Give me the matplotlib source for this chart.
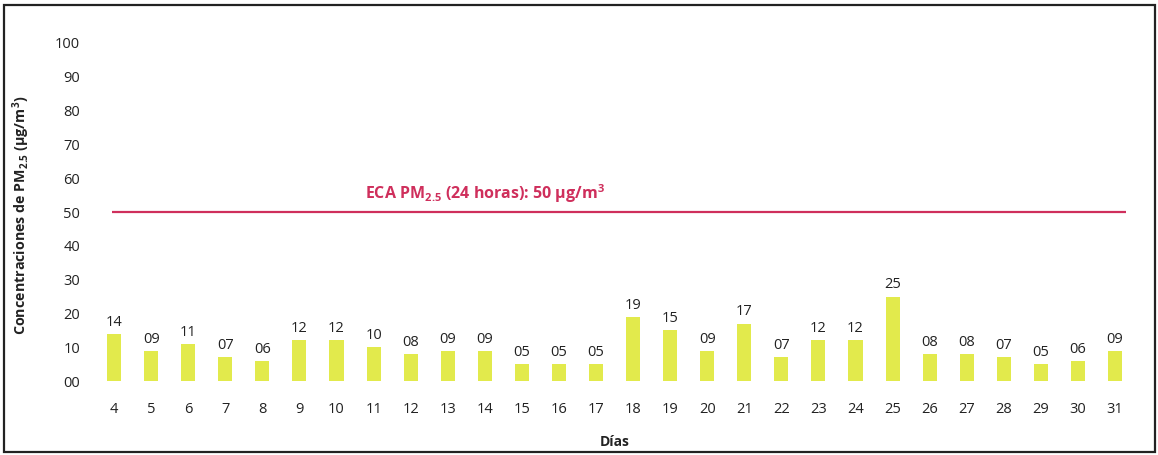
import matplotlib
matplotlib.use("Agg")
import matplotlib.pyplot as plt
from matplotlib.patches import Rectangle

plt.rcParams['font.family'] = ['Open Sans', 'DejaVu Sans']
plt.rcParams['mathtext.fontset'] = 'custom'
plt.rcParams['mathtext.rm'] = 'Open Sans:bold'
plt.rcParams['mathtext.default'] = 'rm'

# data
dias = [str(d) for d in range(4, 32)]
pm25 = [14, 9, 11, 7, 6, 12, 12, 10, 8, 9, 9, 5, 5, 5,
        19, 15, 9, 17, 7, 12, 12, 25, 8, 8, 7, 5, 6, 9]
eca = 50
eca_label = "ECA PM$_{2.5}$ (24 horas): 50 µg/m$^{3}$"

fig = plt.figure(figsize=(11.58, 4.55), dpi=100)
ax = fig.add_axes([0.0825, 0.1626, 0.8964, 0.7429])

x = list(range(len(dias)))
ax.bar(x, pm25, width=0.38, color="#e2ea4c")
for xi, v in zip(x, pm25):
    ax.text(xi, v + 1.2, "%02d" % v, ha="center", va="bottom",
            fontsize=10.5, color="#222222")

ax.hlines(eca, -0.05, 27.3, color="#cf2f5c", lw=1.6)
ax.text(10, 52, eca_label, ha="center", va="bottom", fontsize=11.5,
        color="#cf2f5c", fontweight="bold")

ax.set_xlim(-0.5, 27.5)
ax.set_ylim(0, 100)
ax.set_xticks(x)
ax.set_xticklabels(dias)
ax.set_yticks(range(0, 101, 10))
ax.set_yticklabels(["%02d" % v for v in range(0, 101, 10)])
ax.tick_params(axis="both", length=0, labelsize=10.5, colors="#222222")
ax.tick_params(axis="x", pad=15)
ax.tick_params(axis="y", pad=11)
for s in ax.spines.values():
    s.set_visible(False)

ax.set_ylabel("Concentraciones de PM$_{2.5}$ (µg/m$^{3}$)", fontsize=10.3,
              fontweight="bold", color="#222222")
ax.yaxis.set_label_coords(-0.061, 0.49)
ax.set_xlabel("Días", fontsize=10, fontweight="bold", color="#222222")
ax.xaxis.set_label_coords(0.5, -0.16)

fig.patches.append(Rectangle((0.0035, 0.0066), 0.9935, 0.9824,
                             transform=fig.transFigure, fill=False,
                             edgecolor="#222222", lw=1.6))

fig.savefig("out.png", dpi=100)
